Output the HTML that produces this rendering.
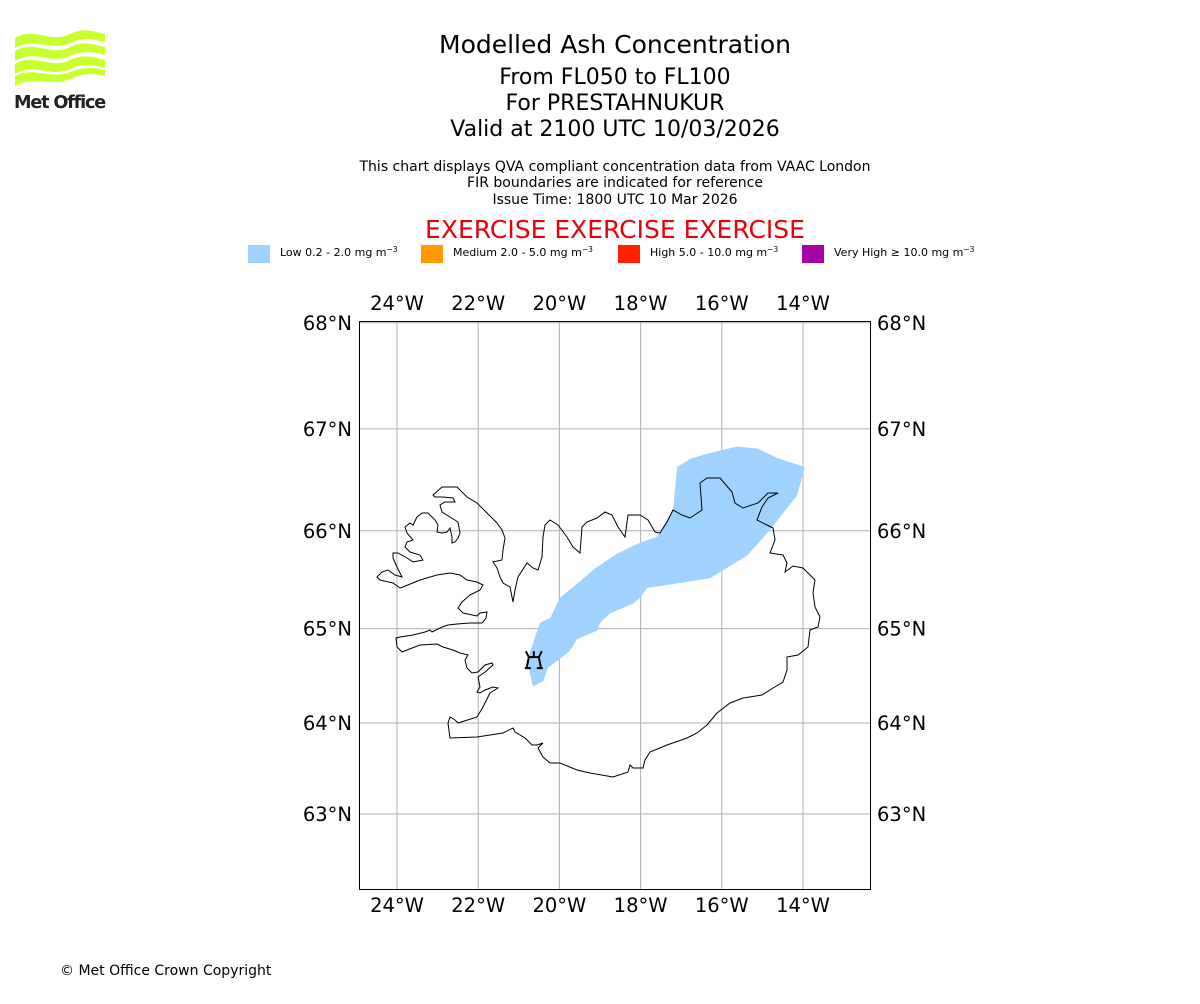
<!DOCTYPE html>
<html><head><meta charset="utf-8">
<style>
body{margin:0;background:#fff;width:1200px;height:1000px;overflow:hidden;font-family:"DejaVu Sans","Liberation Sans",sans-serif;}
svg text{font-family:"DejaVu Sans","Liberation Sans",sans-serif;}
</style></head>
<body>
<svg id="chart" width="1200" height="1000" viewBox="0 0 1200 1000" xmlns="http://www.w3.org/2000/svg">
  <g>
    <path d="M15,38 C35,26 50,44 70,34 C85,27 95,32 105,34 L105,42 C95,40 85,36 70,43 C50,52 35,36 15,48 Z" fill="#c8ff2e"/>
    <path d="M15,51 C35,39 50,57 70,47 C85,40 95,45 105,47 L105,55 C95,53 85,49 70,56 C50,65 35,49 15,61 Z" fill="#c8ff2e"/>
    <path d="M15,64 C35,52 50,70 70,60 C85,53 95,58 105,60 L105,68 C95,66 85,62 70,69 C50,78 35,62 15,74 Z" fill="#c8ff2e"/>
    <path d="M15,76 C35,66 50,80 70,72 C85,66 95,68 105,70 L105,76 C95,74 85,72 70,79 C50,88 35,74 15,86 Z" fill="#c8ff2e"/>
    <text x="14" y="108" font-size="18" font-weight="bold" fill="#222" letter-spacing="-1.2" textLength="91" lengthAdjust="spacingAndGlyphs">Met Office</text>
  </g>
  <g text-anchor="middle" fill="#000">
    <text x="615" y="53" font-size="25">Modelled Ash Concentration</text>
    <text x="615" y="84" font-size="22">From FL050 to FL100</text>
    <text x="615" y="110" font-size="22">For PRESTAHNUKUR</text>
    <text x="615" y="136" font-size="22">Valid at 2100 UTC 10/03/2026</text>
    <text x="615" y="171" font-size="14">This chart displays QVA compliant concentration data from VAAC London</text>
    <text x="615" y="187" font-size="14">FIR boundaries are indicated for reference</text>
    <text x="615" y="204" font-size="14">Issue Time: 1800 UTC 10 Mar 2026</text>
    <text x="615" y="238" font-size="25" fill="#e8000b">EXERCISE EXERCISE EXERCISE</text>
  </g>
  <g id="legend"></g>
  <g id="grid"></g>
  <g id="plume"></g>
  <path fill="none" stroke="#000" stroke-width="1" d="M433,495 L442,487 L457,487 L467,497 L477,503 L487,513 L497,523 L502,530 L505,538 L503,550 L502,560 L493,562 L497,568 L500,577 L503,583 L510,587 L513,602 L515,590 L518,577 L527,563 L533,568 L538,570 L542,557 L543,537 L545,525 L550,520 L558,525 L567,537 L573,547 L580,553 L582,527 L587,522 L597,518 L605,512 L612,515 L618,527 L625,537 L628,515 L640,515 L648,520 L655,532 L660,533 L667,522 L673,510 L682,515 L690,518 L702,510 L700,483 L707,478 L720,478 L732,492 L735,503 L743,508 L758,503 L768,493 L778,493 L768,498 L762,507 L757,520 L767,525 L773,528 L775,540 L770,553 L783,555 L787,563 L785,572 L793,566 L803,568 L812,577 L815,580 L813,593 L815,607 L820,617 L818,627 L810,630 L808,647 L798,655 L787,657 L787,670 L783,682 L773,688 L762,695 L743,698 L730,703 L717,713 L707,725 L697,733 L687,738 L667,745 L650,752 L645,760 L643,768 L633,768 L630,765 L628,772 L613,777 L590,773 L577,770 L560,763 L550,763 L543,757 L538,748 L543,743 L537,745 L532,745 L525,738 L515,732 L513,728 L503,733 L477,737 L450,738 L448,723 L450,717 L455,720 L458,723 L477,717 L483,707 L490,693 L498,688 L493,687 L485,690 L480,693 L477,692 L480,687 L478,677 L485,672 L493,665 L492,663 L485,665 L478,672 L472,673 L467,668 L465,660 L468,655 L460,653 L453,650 L443,647 L437,644 L420,645 L407,650 L402,652 L397,647 L396,638 L400,637 L413,635 L425,632 L430,630 L432,632 L442,627 L448,625 L457,624 L470,623 L482,623 L486,618 L487,612 L480,613 L477,616 L463,613 L458,608 L462,602 L470,595 L480,590 L483,585 L477,582 L467,580 L460,575 L450,573 L437,575 L420,580 L403,587 L400,588 L393,583 L380,580 L377,577 L382,572 L388,570 L395,575 L402,577 L397,567 L393,558 L393,553 L398,553 L407,558 L413,562 L423,560 L420,555 L410,552 L405,547 L407,542 L413,540 L407,533 L405,527 L410,523 L413,525 L417,517 L422,513 L428,513 L435,520 L438,525 L437,532 L442,533 L447,532 L450,528 L452,537 L452,543 L455,542 L458,538 L460,533 L458,522 L450,517 L442,512 L440,505 L445,502 L455,502 L453,498 L443,497 L435,497 Z"/>
  <g id="volcano"></g>
  <rect x="359.5" y="321.5" width="511" height="568" fill="none" stroke="#000" stroke-width="1"/>
  <g id="ticks"></g>
  <text x="60" y="975" font-size="14" fill="#000">© Met Office Crown Copyright</text>
</svg>
<script>
const lonTicks = [-24, -22, -20, -18, -16, -14];
const latTicks = [63, 64, 65, 66, 67, 68];
const plumeLon = [-20.65,-20.80,-20.48,-20.23,-19.99,-19.49,-19.12,-18.58,-18.01,-17.60,-17.20,-17.10,-16.78,-16.36,-15.63,-15.11,-14.64,-13.95,-14.15,-14.81,-15.38,-16.29,-17.84,-18.01,-18.19,-18.75,-19.00,-19.07,-19.57,-19.74,-20.06,-20.28,-20.40];
const plumeLat = [64.39,64.66,65.06,65.11,65.32,65.49,65.62,65.77,65.88,65.94,66.21,66.63,66.71,66.76,66.83,66.81,66.72,66.63,66.35,66.01,65.75,65.52,65.42,65.32,65.26,65.16,65.06,64.98,64.89,64.77,64.66,64.59,64.45];
const volcanoLon = [-20.63];
const volcanoLat = [64.66];
const legendLabels = ["Low 0.2 - 2.0 mg m", "Medium 2.0 - 5.0 mg m", "High 5.0 - 10.0 mg m", "Very High \u2265 10.0 mg m"];
const legendColors = ["#a0d2ff", "#ff9900", "#ff2200", "#aa00aa"];

const NS = "http://www.w3.org/2000/svg";
const K = 40.6 * 180 / Math.PI;
function merc(lat){ const p = lat*Math.PI/180; return Math.log(Math.tan(Math.PI/4 + p/2)); }
function xOf(lon){ return 397 + (lon + 24) * 40.6; }
function yOf(lat){ return 814 - K * (merc(lat) - merc(63)); }
function mk(tag, attrs, parent){ const e = document.createElementNS(NS, tag); for (const k in attrs) e.setAttribute(k, attrs[k]); parent.appendChild(e); return e; }

const grid = document.getElementById('grid');
lonTicks.forEach(l => {
  const ln = mk('line', {x1:xOf(l), x2:xOf(l), y1:322, y2:889, stroke:'#b0b0b0', 'stroke-width':1}, grid);
  
  
});
latTicks.forEach(l => {
  const ln = mk('line', {x1:360, x2:870, y1:yOf(l), y2:yOf(l), stroke:'#b0b0b0', 'stroke-width':1}, grid);
  
  
});

const ticks = document.getElementById('ticks');
lonTicks.forEach(l => {
  const s = Math.abs(l) + '\u00b0W';
  [310, 912].forEach(y => {
    const t = mk('text', {x:xOf(l), y:y, 'font-size':19.5, 'text-anchor':'middle'}, ticks);
    t.textContent = s;
    
    
  });
});
latTicks.forEach(l => {
  const s = l + '\u00b0N';
  const a = mk('text', {x:352, y:yOf(l)+7, 'font-size':19.5, 'text-anchor':'end'}, ticks);
  a.textContent = s;
  
  
  const b = mk('text', {x:877, y:yOf(l)+7, 'font-size':19.5, 'text-anchor':'start'}, ticks);
  b.textContent = s;
  
  
});

const plume = document.getElementById('plume');
const pts = plumeLon.map((lo, i) => xOf(lo).toFixed(1) + ',' + yOf(plumeLat[i]).toFixed(1)).join(' ');
const poly = mk('polygon', {points:pts, fill:'#a0d2ff', stroke:'none'}, plume);



const vg = document.getElementById('volcano');
volcanoLon.forEach((lo, i) => {
  const vx = xOf(lo), vy = yOf(volcanoLat[i]);
  const p = mk('path', {d:`M${vx-8},${vy-10} L${vx-5},${vy-4} L${vx+5},${vy-4} L${vx+8},${vy-10} M${vx},${vy-10} L${vx},${vy-4} M${vx-5},${vy-4} L${vx-7},${vy+6} M${vx+5},${vy-4} L${vx+7},${vy+6} M${vx-9},${vy+7} L${vx-3},${vy+7} M${vx+3},${vy+7} L${vx+9},${vy+7}`, fill:'none', stroke:'#000', 'stroke-width':2}, vg);
  
  
});

const leg = document.getElementById('legend');
const legX = [248, 421, 618, 802];
legendLabels.forEach((lab, i) => {
  const r = mk('rect', {x:legX[i], y:245, width:22, height:18, fill:legendColors[i]}, leg);
  
  
  const t = mk('text', {x:legX[i]+32, y:256, 'font-size':11}, leg);
  t.textContent = lab;
  const sup = mk('tspan', {dy:-4, 'font-size':7.5}, t);
  sup.textContent = '\u22123';
  
  
});
</script>
</body></html>
